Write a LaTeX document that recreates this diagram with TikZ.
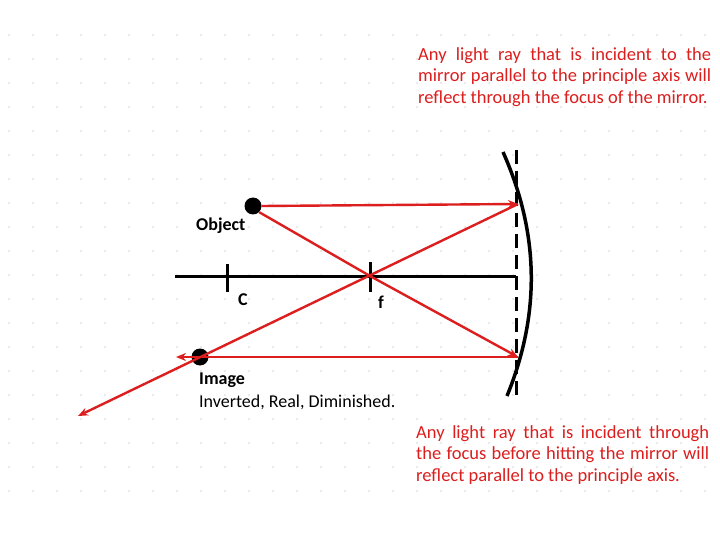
\documentclass[tikz,border=0pt]{standalone}
\usepackage{fontspec}
\setmainfont{Carlito}
\usetikzlibrary{arrows.meta}
\definecolor{rayred}{RGB}{220,30,30}
\definecolor{dotgray}{RGB}{228,228,228}
\newcommand{\jline}[1]{\makebox[293pt][s]{#1}\\}
\begin{document}
\begin{tikzpicture}[x=1pt,y=-1pt,
  ray/.style={rayred,line width=2.4pt,-{Stealth[length=10pt,width=8pt]}},
  lbl/.style={inner sep=0pt,font=\fontsize{18}{21}\selectfont\bfseries},
  note/.style={inner sep=0pt,text=rayred,align=left,font=\fontsize{18.5}{21.5}\selectfont}]
\useasboundingbox (0,0) rectangle (720,540);
\fill[white] (0,0) rectangle (720,540);
\foreach \i in {0,...,29}{\foreach \j in {0,...,19}{\fill[dotgray] (9+24*\i,35+24*\j) circle (1.2);}}
% axis
\coordinate (axL) at (175,276);
\coordinate (axR) at (516,276);
\draw[line width=3pt] (axL) -- (axR);
\draw[line width=3pt] (227,264) -- (227,292);
\draw[line width=3pt] (370,262) -- (370,292);
\coordinate (F) at (370,276);
% mirror
\draw[line width=3.5pt] (503,152) .. controls (540,235) and (540,315) .. (507,396);
\draw[line width=3pt,dash pattern=on 14pt off 7pt] (516,150) -- (516,397);
% points
\node[circle,fill=black,minimum size=17pt,inner sep=0pt] (obj) at (253,206) {};
\node[circle,fill=black,minimum size=17pt,inner sep=0pt] (img) at (200,357) {};
\coordinate (M1) at (518,204);
\coordinate (M2) at (518,357);
\coordinate (E1) at (78,416);
\coordinate (E2) at (176,357);
% rays
\draw[ray] (obj.east) -- (M1);
\draw[ray] (M1) -- (E1);
\draw[ray] (obj.south east) -- (F) -- (M2);
\draw[ray] (M2) -- (E2);
% labels
\node[lbl,anchor=west] (lobj) at (196,226) {Object};
\node[lbl,anchor=west] (lc) at (238,300) {C};
\node[lbl,anchor=west] (lf) at (378,302) {f};
\node[lbl,anchor=west] (limg) at (199,380) {Image};
\node[lbl,anchor=west,font=\fontsize{18}{21}\selectfont] (linv) at (199,402) {Inverted, Real, Diminished.};
\node[note,anchor=north west] (n1) at (418,47) {\jline{Any light ray that is incident to the}\jline{mirror parallel to the principle axis will}reflect through the focus of the mirror.};
\node[note,anchor=north west] (n2) at (416,425) {\jline{Any light ray that is incident through}\jline{the focus before hitting the mirror will}reflect parallel to the principle axis.};
\end{tikzpicture}
\end{document}
